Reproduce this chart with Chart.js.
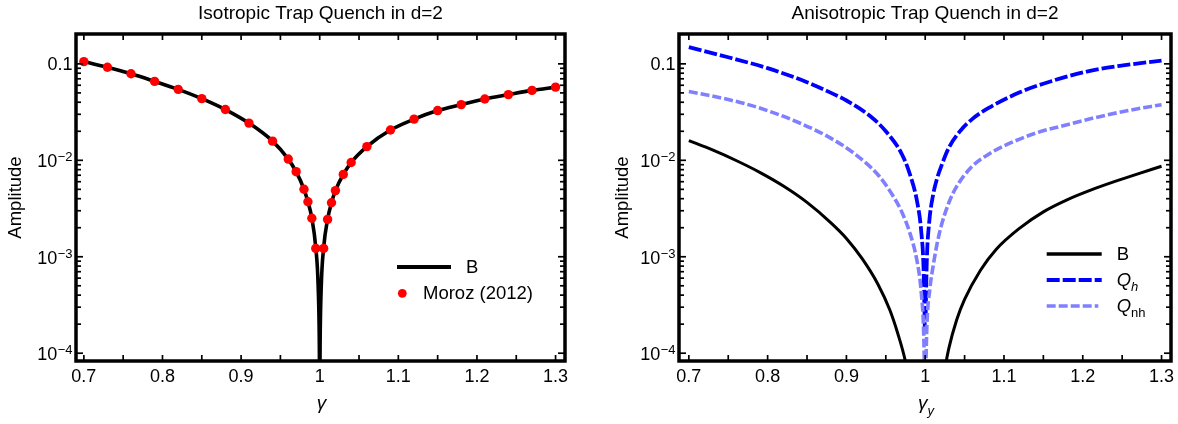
<!DOCTYPE html>
<html><head><meta charset="utf-8">
<script src="https://cdn.jsdelivr.net/npm/chart.js@4/dist/chart.umd.min.js"></script>
<style>
html,body{margin:0;padding:0;background:#fff;}
#wrap{position:relative;width:1178px;height:424px;overflow:hidden;}
.box{position:absolute;top:0;width:589px;height:424px;}
</style></head><body>
<div id="wrap">
<div class="box" style="left:0"><canvas id="c1" width="589" height="424"></canvas></div>
<div class="box" style="left:589px"><canvas id="c2" width="589" height="424"></canvas></div>
</div>
<script>
// ---------- data: isotropic quench (left panel) ----------
const isoGamma = [0.70,0.73,0.76,0.79,0.82,0.85,0.88,0.91,0.94,0.96,0.97,0.98,0.985,0.99,0.995,
                  1.005,1.01,1.015,1.02,1.03,1.04,1.06,1.09,1.12,1.15,1.18,1.21,1.24,1.27,1.30];
const isoMoroz = [0.1056,0.0923,0.0789,0.0658,0.0544,0.0436,0.0336,0.0243,0.0158,0.0103,0.00762,0.00501,0.00372,0.00251,0.00122,
                  0.00122,0.00244,0.00363,0.00485,0.00714,0.00948,0.01387,0.0206,0.0267,0.0328,0.0378,0.0432,0.0480,0.0531,0.0574];
const isoCurveGamma = [0.70,0.73,0.76,0.79,0.82,0.85,0.88,0.91,0.94,0.96,0.97,0.98,0.985,0.99,0.995,0.998,0.9995,0.9998,1.0,
                       1.0002,1.0005,1.002,1.005,1.01,1.015,1.02,1.03,1.04,1.06,1.09,1.12,1.15,1.18,1.21,1.24,1.27,1.30];
const isoCurveB = [0.1056,0.0923,0.0789,0.0658,0.0544,0.0436,0.0336,0.0243,0.0158,0.0103,0.00762,0.00501,0.00372,0.00251,0.00124,0.0005,0.000125,0.00005,null,
                   0.00005,0.000125,0.0005,0.00124,0.00244,0.00363,0.00485,0.00714,0.00948,0.01387,0.0206,0.0267,0.0328,0.0378,0.0432,0.0480,0.0531,0.0574];

// ---------- data: anisotropic quench (right panel) ----------
const anisoBGamma = [0.70,0.73,0.76,0.79,0.82,0.85,0.88,0.90,0.92,0.94,0.955,0.965,0.975,0.985,1.0,
                     1.02,1.03,1.04,1.05,1.07,1.09,1.12,1.15,1.18,1.21,1.24,1.27,1.30];
const anisoB = [0.0160,0.0128,0.00995,0.0075,0.00541,0.00366,0.00226,0.00155,0.000955,0.000519,0.000282,0.000162,0.0000813,0.0000275,null,
                0.0000417,0.000112,0.000222,0.000361,0.000721,0.00119,0.00198,0.00292,0.00389,0.0049,0.0060,0.00724,0.00867];
const anisoQhGamma = [0.70,0.75,0.80,0.85,0.875,0.90,0.93,0.95,0.97,0.98,0.99,0.995,0.998,0.9995,1.0,
                      1.0005,1.002,1.005,1.01,1.015,1.02,1.03,1.045,1.06,1.08,1.12,1.16,1.205,1.247,1.30];
const anisoQh = [0.149,0.117,0.0902,0.0646,0.0525,0.0417,0.0288,0.0200,0.01175,0.00741,0.00363,0.00182,0.000724,0.000182,null,
                 0.000224,0.000891,0.00224,0.00437,0.00646,0.00851,0.0135,0.0204,0.0269,0.0347,0.0507,0.0661,0.0832,0.0953,0.108];
const anisoQnhGamma = [0.70,0.75,0.79,0.84,0.88,0.91,0.94,0.96,0.97,0.98,0.99,0.995,0.998,0.9995,1.0,
                       1.0005,1.002,1.006,1.01,1.015,1.02,1.03,1.04,1.06,1.08,1.10,1.14,1.18,1.22,1.26,1.30];
const anisoQnh = [0.0518,0.0427,0.0348,0.0245,0.0170,0.01175,0.00708,0.00417,0.00295,0.00182,0.000871,0.000427,0.00017,0.0000427,null,
                  0.0000501,0.000178,0.000468,0.000794,0.00135,0.00204,0.00363,0.00537,0.00871,0.0115,0.0141,0.0191,0.0234,0.0282,0.0331,0.0377];

// ---------- ticks ----------
const xTickValues = [0.7,0.8,0.9,1.0,1.1,1.2,1.3];
const xTickLabels = ['0.7','0.8','0.9','1','1.1','1.2','1.3'];
const xMinorTicks = [0.7,0.75,0.8,0.85,0.9,0.95,1.0,1.05,1.1,1.15,1.2,1.25,1.3];
const yTickValues = [0.1,0.01,0.001,0.0001];
const yTickBase = ['0.1','10','10','10'];
const yTickExp = ['','\u22122','\u22123','\u22124'];
const yMinorTicks = [0.0002,0.0003,0.0004,0.0005,0.0006,0.0007,0.0008,0.0009,
                     0.002,0.003,0.004,0.005,0.006,0.007,0.008,0.009,
                     0.02,0.03,0.04,0.05,0.06,0.07,0.08,0.09,0.2];

const FONT = '"Liberation Sans", Arial, Helvetica, sans-serif';
const pts = (xs, ys) => xs.map((x, i) => ({x: x, y: ys[i]}));

function framePlugin(cfg) {
  return {
    id: 'frame' + cfg.id,
    afterDraw(chart) {
      const ctx = chart.ctx, a = chart.chartArea;
      const xs = chart.scales.x, ys = chart.scales.y;
      ctx.save();
      ctx.strokeStyle = '#000';
      ctx.fillStyle = '#000';
      const seg = (x1, y1, x2, y2) => { ctx.beginPath(); ctx.moveTo(x1, y1); ctx.lineTo(x2, y2); ctx.stroke(); };
      // ticks (inward, on all four sides)
      ctx.lineWidth = 1.7;
      xMinorTicks.forEach(v => {
        const p = xs.getPixelForValue(v);
        seg(p, a.bottom, p, a.bottom - 6);
        seg(p, a.top, p, a.top + 6);
      });
      yTickValues.forEach(v => {
        const p = ys.getPixelForValue(v);
        if (p < a.top || p > a.bottom) return;
        seg(a.left, p, a.left + 7, p);
        seg(a.right, p, a.right - 7, p);
      });
      yMinorTicks.forEach(v => {
        const p = ys.getPixelForValue(v);
        if (p < a.top + 1 || p > a.bottom - 1) return;
        seg(a.left, p, a.left + 5, p);
        seg(a.right, p, a.right - 5, p);
      });
      // frame
      ctx.lineWidth = 3.5;
      ctx.strokeRect(a.left, a.top, a.right - a.left, a.bottom - a.top);
      // x tick labels
      ctx.font = '18px ' + FONT;
      ctx.textAlign = 'center';
      ctx.textBaseline = 'middle';
      xTickValues.forEach((v, i) => {
        ctx.fillText(xTickLabels[i], xs.getPixelForValue(v), a.bottom + 16);
      });
      // y tick labels
      const xEnd = a.left - 3.5;
      yTickValues.forEach((v, i) => {
        const p = ys.getPixelForValue(v);
        if (!yTickExp[i]) {
          ctx.font = '18px ' + FONT;
          ctx.textAlign = 'right'; ctx.textBaseline = 'middle';
          ctx.fillText(yTickBase[i], xEnd, p + 1);
        } else {
          ctx.font = '13px ' + FONT;
          ctx.textAlign = 'right'; ctx.textBaseline = 'alphabetic';
          const w = ctx.measureText(yTickExp[i]).width;
          ctx.fillText(yTickExp[i], xEnd, p + 1);
          ctx.font = '18px ' + FONT;
          ctx.textBaseline = 'middle';
          ctx.fillText(yTickBase[i], xEnd - w - 0.5, p + 2);
        }
      });
      // plot title
      ctx.font = '19px ' + FONT;
      ctx.textAlign = 'center'; ctx.textBaseline = 'middle';
      ctx.fillText(cfg.title, (a.left + a.right) / 2, 14);
      // y axis title
      ctx.save();
      ctx.translate(cfg.yTitleX, (a.top + a.bottom) / 2);
      ctx.rotate(-Math.PI / 2);
      ctx.font = '18.5px ' + FONT;
      ctx.textAlign = 'center'; ctx.textBaseline = 'middle';
      ctx.fillText('Amplitude', 0, 0);
      ctx.restore();
      // x axis title
      ctx.font = 'italic 19px ' + FONT;
      ctx.textBaseline = 'alphabetic';
      const gw = ctx.measureText('\u03b3').width;
      ctx.font = 'italic 13px ' + FONT;
      const sw = cfg.xSub ? ctx.measureText(cfg.xSub).width : 0;
      const x0 = (a.left + a.right) / 2 - (gw + sw) / 2 + 1;
      ctx.font = 'italic 19px ' + FONT;
      ctx.textAlign = 'left';
      ctx.fillText('\u03b3', x0, 409);
      if (cfg.xSub) {
        ctx.font = 'italic 13px ' + FONT;
        ctx.fillText(cfg.xSub, x0 + gw, 415);
      }
      // legend
      cfg.legend.forEach(item => {
        ctx.save();
        if (item.kind === 'line') {
          ctx.strokeStyle = item.color;
          ctx.lineWidth = item.width;
          ctx.setLineDash(item.dash || []);
          ctx.lineCap = 'butt';
          seg(item.x1, item.y, item.x2, item.y);
        } else {
          ctx.fillStyle = item.color;
          ctx.beginPath(); ctx.arc(item.x1, item.y, item.r, 0, Math.PI * 2); ctx.fill();
        }
        ctx.restore();
        ctx.fillStyle = '#000';
        ctx.textAlign = 'left'; ctx.textBaseline = 'middle';
        if (item.sub !== undefined) {
          ctx.font = 'italic 18.5px ' + FONT;
          ctx.fillText(item.label, item.tx, item.y + 1);
          const qw = ctx.measureText(item.label).width;
          ctx.font = (item.subItalic ? 'italic ' : '') + '13px ' + FONT;
          ctx.textBaseline = 'alphabetic';
          ctx.fillText(item.sub, item.tx + qw, item.y + 11);
        } else {
          ctx.font = '18.5px ' + FONT;
          ctx.fillText(item.label, item.tx, item.y + 1);
        }
      });
      ctx.restore();
    }
  };
}

function baseOptions(xmin, xmax, yWidth, padRight) {
  return {
    responsive: false,
    animation: false,
    devicePixelRatio: 1,
    events: [],
    layout: { padding: { top: 34, right: padRight, left: 0, bottom: 0 } },
    plugins: { legend: { display: false }, title: { display: false }, tooltip: { enabled: false } },
    elements: { point: { radius: 0 }, line: { tension: 0 } },
    scales: {
      x: {
        type: 'linear', min: xmin, max: xmax,
        ticks: { display: false }, grid: { display: false }, border: { display: false },
        afterFit(s) { s.height = 63; }
      },
      y: {
        type: 'logarithmic', min: 8.3e-5, max: 0.204,
        ticks: { display: false }, grid: { display: false }, border: { display: false },
        afterFit(s) { s.width = yWidth; }
      }
    }
  };
}

// ---------- left chart ----------
new Chart(document.getElementById('c1'), {
  type: 'line',
  data: {
    datasets: [
      { label: 'Moroz (2012)', data: pts(isoGamma, isoMoroz), showLine: false,
        pointRadius: 4.7, pointBackgroundColor: '#ff0000', pointBorderWidth: 0, pointBorderColor: '#ff0000', order: 0 },
      { label: 'B', data: pts(isoCurveGamma, isoCurveB), borderColor: '#000', borderWidth: 3.6,
        cubicInterpolationMode: 'monotone', pointRadius: 0, spanGaps: false, order: 1 }
    ]
  },
  options: baseOptions(0.690, 1.312, 76, 24),
  plugins: [framePlugin({
    id: 1, title: 'Isotropic Trap Quench in d=2', yTitleX: 16, xSub: '',
    legend: [
      { kind: 'line', color: '#000', width: 4, x1: 397, x2: 451, y: 267, label: 'B', tx: 466 },
      { kind: 'dot', color: '#ff0000', r: 4.4, x1: 402.3, y: 293.3, label: 'Moroz (2012)', tx: 423 }
    ]
  })]
});

// ---------- right chart ----------
new Chart(document.getElementById('c2'), {
  type: 'line',
  data: {
    datasets: [
      { label: 'Qnh', data: pts(anisoQnhGamma, anisoQnh), borderColor: 'rgb(128,128,255)', borderWidth: 3.6,
        borderDash: [9, 3], cubicInterpolationMode: 'monotone', pointRadius: 0, order: 0 },
      { label: 'Qh', data: pts(anisoQhGamma, anisoQh), borderColor: 'rgb(0,0,255)', borderWidth: 3.8,
        borderDash: [13, 3], cubicInterpolationMode: 'monotone', pointRadius: 0, order: 1 },
      { label: 'B', data: pts(anisoBGamma, anisoB), borderColor: '#000', borderWidth: 3,
        cubicInterpolationMode: 'monotone', pointRadius: 0, order: 2 }
    ]
  },
  options: baseOptions(0.6875, 1.312, 90, 7),
  plugins: [framePlugin({
    id: 2, title: 'Anisotropic Trap Quench in d=2', yTitleX: 33.5, xSub: 'y',
    legend: [
      { kind: 'line', color: '#000', width: 3.5, x1: 457.7, x2: 512.7, y: 254, label: 'B', tx: 527.7 },
      { kind: 'line', color: 'rgb(0,0,255)', width: 3.8, dash: [13, 3], x1: 457.7, x2: 512.7, y: 280,
        label: 'Q', sub: 'h', subItalic: true, tx: 527.7 },
      { kind: 'line', color: 'rgb(128,128,255)', width: 3.6, dash: [9, 3], x1: 457.7, x2: 509.3, y: 306,
        label: 'Q', sub: 'nh', subItalic: false, tx: 527.7 }
    ]
  })]
});
</script>
</body></html>
